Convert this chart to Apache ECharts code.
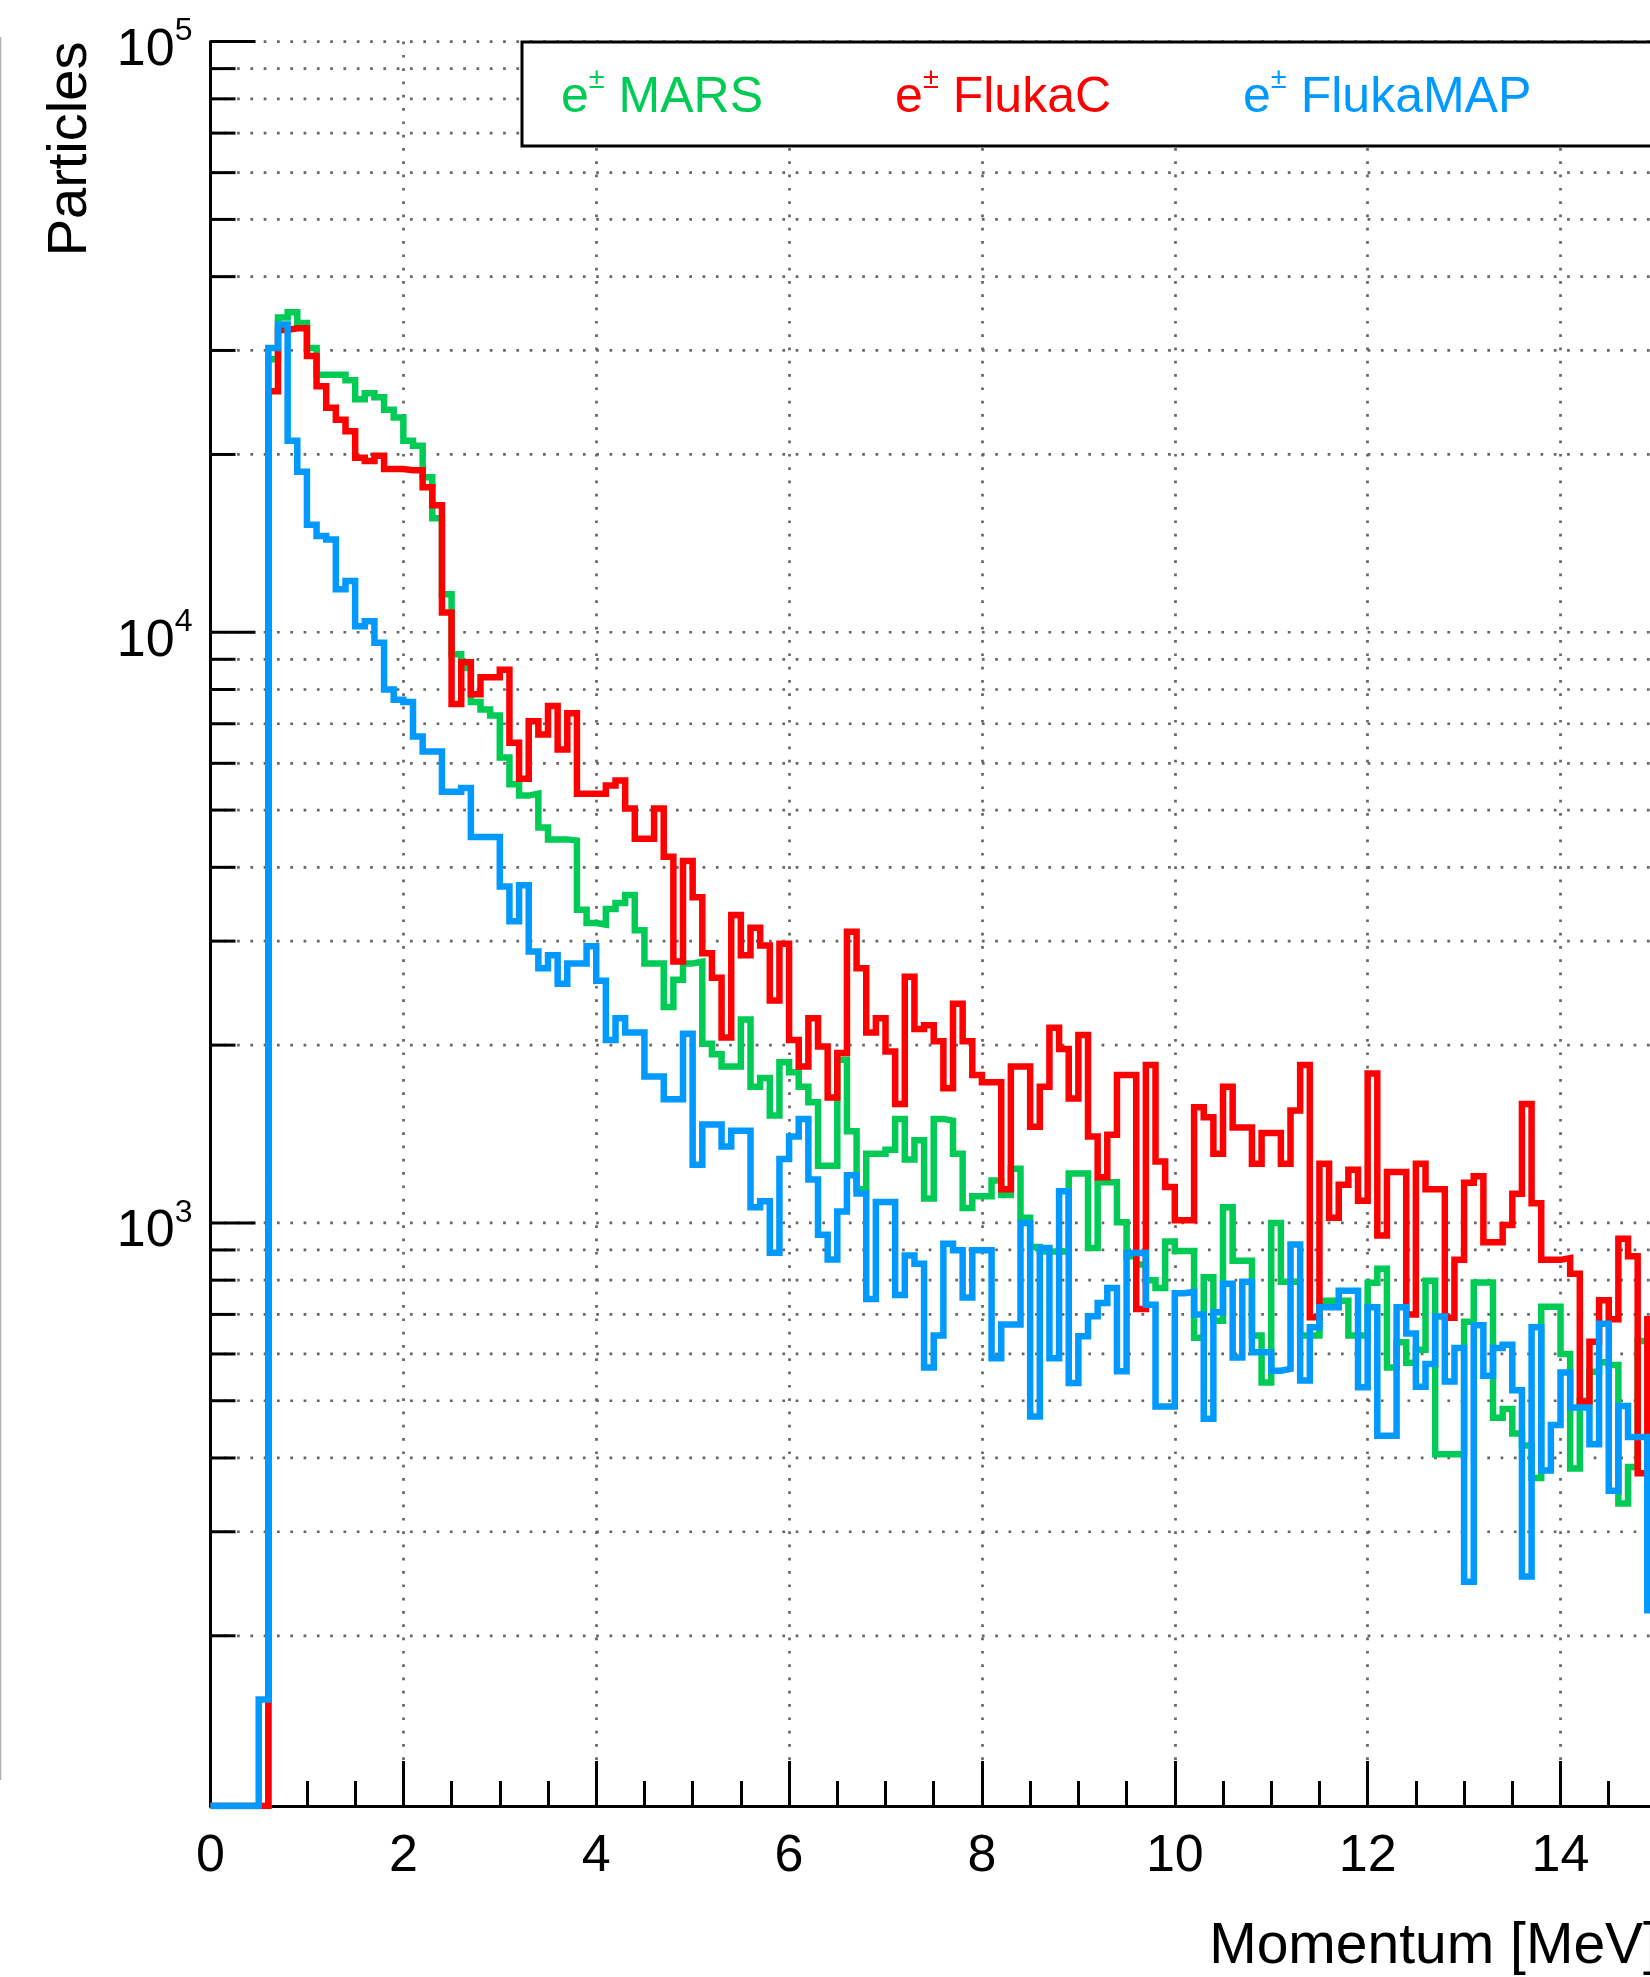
<!DOCTYPE html>
<html>
<head>
<meta charset="utf-8">
<script src="https://cdn.jsdelivr.net/npm/echarts@6/dist/echarts.min.js"></script>
<style>
html,body{margin:0;padding:0;background:#ffffff;}
#chart{width:1650px;height:1977px;}
</style>
</head>
<body>
<div id="chart"></div>
<script>
// ---------- data ----------
const BIN_LO = 0.0;      // lower edge of first bin [MeV]
const BIN_W = 0.1;       // bin width [MeV]
const X_MIN = 0, X_MAX = 15;
const Y_MIN = 103, Y_MAX = 100000;
const X_MAJOR_INTERVAL = 2;
const X_MINOR_INTERVAL = 0.5;
const Y_DECADES = [1000, 10000, 100000];
const Y_MINOR = [200,300,400,500,600,700,800,900,
                 2000,3000,4000,5000,6000,7000,8000,9000,
                 20000,30000,40000,50000,60000,70000,80000,90000];
const SERIES_NAMES = ['e\u00b1 MARS', 'e\u00b1 FlukaC', 'e\u00b1 FlukaMAP'];
const COLORS = ['#00cc55', '#ff0000', '#0099ff'];

// bin contents, bins of 0.1 MeV starting at 0 MeV (null = empty bin)
const MARS = [
  null,null,null,null,null,null,29000,34100,34800,33400,
  30300,27300,27300,27300,26700,24800,25400,25000,23800,23100,
  21100,20700,18300,15600,11600,9180,8700,7620,7400,7230,
  6140,5530,5290,5330,4670,4460,4460,4440,3390,3220,
  3200,3400,3480,3590,3130,2750,2750,2320,2580,2750,
  2770,2010,1930,1840,1840,2210,1700,1760,1520,1870,
  1800,1700,1600,1250,1250,1890,1430,1140,1310,1310,
  1330,1500,1280,1380,1100,1500,1490,1310,1060,1110,
  1110,1180,1115,1235,1020,910,895,895,895,1212,
  1212,907,1172,1172,1003,878,850,800,776,930,
  896,896,639,809,683,1063,863,863,645,537,
  1000,795,795,645,645,738,738,738,645,645,
  792,836,569,628,580,610,798,406,406,406,
  680,793,793,468,484,440,420,370,721,721,
  600,384,500,560,581,575,335,386,631,631
];
const FLUKAC = [
  null,null,null,null,null,null,25600,32500,32700,32700,
  29350,26100,24000,22900,21900,19750,19500,19900,18900,18900,
  18800,18800,17600,16400,10800,7560,8900,7850,8390,8390,
  8640,6500,5650,7070,6710,7500,6330,7290,5330,5330,
  5330,5500,5610,5030,4470,4470,5030,4170,2770,4100,
  3560,2860,2600,2060,3320,2840,3160,2950,2380,2970,
  2040,1840,2220,1990,1630,1940,3110,2700,2100,2220,
  1950,1590,2610,2130,2160,2030,1690,2350,2030,1780,
  1730,1730,1140,1840,1840,1455,1700,2140,1970,1625,
  2080,1400,1195,1410,1780,1780,715,1850,1270,1150,
  1010,1010,1570,1510,1310,1700,1450,1450,1260,1420,
  1420,1260,1550,1850,692,1260,1020,1160,1230,1090,
  1790,952,1220,1220,700,1260,1140,1140,691,866,
  1170,1200,927,927,992,1120,1590,1080,866,866,
  872,820,498,629,740,687,940,878,377,687
];
const FLUKAMAP = [
  null,null,null,null,null,156,30300,33200,21100,18700,
  15200,14550,14360,11820,12210,10240,10440,9600,8000,7690,
  7620,6660,6280,6280,5370,5370,5450,4500,4500,4500,
  3710,3240,3730,2880,2700,2840,2540,2750,2750,2940,
  2570,2040,2220,2100,2100,1770,1770,1620,1620,2090,
  1255,1467,1467,1347,1432,1432,1063,1088,890,1283,
  1400,1500,1184,955,867,1046,1204,1121,743,1085,
  1085,755,881,853,569,645,922,899,748,899,
  899,590,673,673,1000,470,907,590,1131,536,
  643,695,732,776,561,889,889,727,489,489,
  760,764,700,466,706,789,592,795,604,604,
  562,566,919,541,666,720,720,768,768,527,
  720,436,436,720,650,528,577,694,539,614,
  247,671,551,614,622,521,252,666,381,455,
  558,487,487,422,675,352,490,434,434,221
];

// ---------- build ----------
const FONT = '"Liberation Sans", Arial, Helvetica, sans-serif';

function histSteps(vals) {
  // empty bins are drawn on the frame floor, as ROOT does
  const pts = vals.map((v, i) => [+(BIN_LO + i * BIN_W).toFixed(3), v == null ? Y_MIN : v]);
  const last = pts[pts.length - 1][1];
  pts.push([+(BIN_LO + vals.length * BIN_W).toFixed(3), last]);
  return pts;
}

function isDecade(v) {
  const l = Math.log10(v);
  return Math.abs(l - Math.round(l)) < 1e-6;
}

const chart = echarts.init(document.getElementById('chart'), null, {renderer: 'canvas'});

const lineSeries = [MARS, FLUKAC, FLUKAMAP].map((vals, i) => ({
  name: SERIES_NAMES[i],
  type: 'line',
  step: 'end',
  data: histSteps(vals),
  xAxisIndex: 0,
  yAxisIndex: 0,
  showSymbol: false,
  symbol: 'none',
  clip: true,
  z: 3 + i,
  lineStyle: {color: COLORS[i], width: 6.5, cap: 'butt', join: 'miter'},
  itemStyle: {color: COLORS[i]},
  emphasis: {disabled: true}
}));

const guideValues = Y_DECADES.concat(Y_MINOR);

const yGuides = {
  type: 'custom',
  coordinateSystem: 'cartesian2d',
  xAxisIndex: 0,
  yAxisIndex: 0,
  silent: true,
  clip: false,
  z: 1,
  data: guideValues.map(v => [X_MIN, v]),
  encode: {x: 0, y: 1},
  renderItem: function (params, api) {
    const v = api.value(1);
    const a = api.coord([X_MIN, v]);
    const b = api.coord([X_MAX, v]);
    const major = Y_DECADES.indexOf(v) >= 0;
    return {
      type: 'group',
      children: [
        {type: 'line', shape: {x1: a[0], y1: a[1], x2: b[0], y2: b[1]},
         style: {stroke: '#666666', lineWidth: 2.7, lineDash: [2.7, 10.6]}},
        {type: 'line', shape: {x1: a[0], y1: a[1], x2: a[0] + (major ? 45 : 25), y2: a[1]},
         style: {stroke: '#000000', lineWidth: 3}}
      ]
    };
  }
};

const option = {
  animation: false,
  backgroundColor: '#ffffff',
  textStyle: {fontFamily: FONT},
  grid: {
    left: 210.5, top: 41.6, width: 96.43 * (X_MAX - X_MIN), height: 1764.4,
    containLabel: false, outerBoundsMode: 'none'
  },
  legend: {
    left: 522, top: 42,
    width: 4000,
    orient: 'horizontal',
    icon: 'none',
    itemWidth: 0, itemHeight: 10,
    itemGap: 127,
    padding: [23, 300, 23, 34],
    borderColor: '#000000', borderWidth: 3,
    backgroundColor: '#ffffff',
    selectedMode: false,
    data: SERIES_NAMES.map((n, i) => ({name: n, textStyle: {color: COLORS[i]}})),
    formatter: function (name) {
      const rest = name.slice(2);
      return '{b|e}{s|\u00b1}{b|' + rest + '}';
    },
    textStyle: {
      fontFamily: FONT, fontSize: 50,
      rich: {
        b: {fontFamily: FONT, fontSize: 50, lineHeight: 58, verticalAlign: 'bottom'},
        s: {fontFamily: FONT, fontSize: 29, lineHeight: 58, verticalAlign: 'top', padding: [0, 0, 18, 0]}
      }
    }
  },
  xAxis: [
    {
      type: 'value', min: X_MIN, max: X_MAX, interval: X_MAJOR_INTERVAL,
      position: 'bottom',
      name: 'Momentum [MeV]',
      nameLocation: 'end', nameGap: 2,
      nameTextStyle: {fontFamily: FONT, fontSize: 57, color: '#000', align: 'right', verticalAlign: 'top', padding: [113, 0, 0, 0]},
      axisLine: {show: true, onZero: false, lineStyle: {color: '#000', width: 3}},
      axisTick: {show: true, inside: true, length: 45, lineStyle: {color: '#000', width: 3}},
      axisLabel: {
        show: true, margin: 25, fontFamily: FONT, fontSize: 52, color: '#000',
        formatter: v => (v % X_MAJOR_INTERVAL === 0 ? String(v) : '')
      },
      splitLine: {show: true, lineStyle: {color: '#666666', width: 2.7, type: [2.7, 10.6]}},
      minorTick: {show: false}
    },
    {
      type: 'value', min: X_MIN, max: X_MAX, interval: X_MINOR_INTERVAL,
      position: 'bottom', gridIndex: 0,
      axisLine: {show: false},
      axisTick: {show: true, inside: true, length: 25, lineStyle: {color: '#000', width: 3}},
      axisLabel: {show: false},
      splitLine: {show: false}
    }
  ],
  yAxis: {
    type: 'log', logBase: 10, min: Y_MIN, max: Y_MAX,
    name: 'Particles',
    nameLocation: 'end', nameGap: 0, nameRotate: 90,
    nameTextStyle: {fontFamily: FONT, fontSize: 56, color: '#000', align: 'right', verticalAlign: 'bottom', padding: [0, 0, 112, 0]},
    axisLine: {show: true, onZero: false, lineStyle: {color: '#000', width: 3}},
    axisTick: {show: false},
    splitLine: {show: false},
    axisLabel: {
      show: true, margin: 18, color: '#000',
      formatter: function (v) {
        if (!isDecade(v) || v < Y_MIN) return '';
        const e = Math.round(Math.log10(v));
        return '{a|10}{e|' + e + '}';
      },
      rich: {
        a: {fontFamily: FONT, fontSize: 52, lineHeight: 52, padding: [18, 0, 0, 0], color: '#000'},
        e: {fontFamily: FONT, fontSize: 32, lineHeight: 32, verticalAlign: 'top', color: '#000'}
      }
    }
  },
  graphic: [
    {type: 'line', shape: {x1: 0.5, y1: 37, x2: 0.5, y2: 1780}, style: {stroke: '#b0b0b0', lineWidth: 1.5}, silent: true}
  ],
  series: [yGuides].concat(lineSeries)
};

chart.setOption(option);
</script>
</body>
</html>
